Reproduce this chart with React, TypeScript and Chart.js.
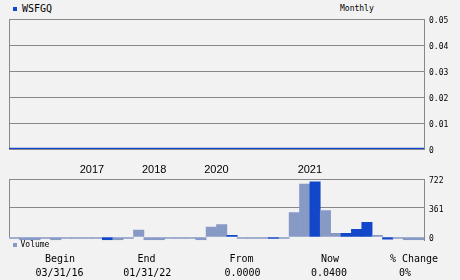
import React, { useEffect, useRef } from 'react';
import { Chart, registerables } from 'chart.js';

Chart.register(...registerables);

const ticker = 'WSFGQ';
const period = 'Monthly';

// one category per bar / price point (40 periods); year shown at the first bar of that year
const yearLabels = [
  '', '', '', '', '', '', '', '', '2017', '',
  '', '', '', '', '2018', '', '', '', '', '',
  '2020', '', '', '', '', '', '', '', '', '2021',
  '', '', '', '', '', '', '', '', '', '',
];

const price = [
  0, 0, 0, 0, 0, 0, 0, 0, 0, 0,
  0, 0, 0, 0, 0, 0, 0, 0, 0, 0,
  0, 0, 0, 0, 0, 0, 0, 0, 0, 0,
  0, 0, 0, 0, 0, 0, 0, 0, 0, 0,
];

const volume = [
  -19, -37, -37, -19, -37, -19, -19, -19, -19, -37,
  -37, -19, 86, -37, -37, -19, -19, -19, -37, 123,
  156, 20, -19, -19, -19, -19, -19, 304, 660, 688,
  328, 45, 45, 95, 181, 21, -28, -19, -37, -37,
];

const volumeUp = [
  false, false, false, false, false, false, false, false, false, true,
  false, false, false, false, false, false, false, false, false, false,
  false, true, false, false, false, true, false, false, false, true,
  false, false, true, true, true, false, true, false, false, false,
];

const priceTicks = [0, 0.01, 0.02, 0.03, 0.04, 0.05];
const volumeTicks = [0, 361, 722];

const footerLabels = ['Begin', 'End', 'From', 'Now', '% Change'];
const footerValues = ['03/31/16', '01/31/22', '0.0000', '0.0400', '0%'];

const BG = '#f2f2f2';
const GRID = '#888888';
const DARK = '#1247c9';
const LIGHT = '#8799c5';
const MONO = '"DejaVu Sans Mono", monospace';

const leftBorder = {
  id: 'leftBorder',
  beforeDatasetsDraw(chart: any) {
    const { ctx, chartArea } = chart;
    const yScale = chart.scales.y;
    const bottom = chart.config.options.leftBorderToZero
      ? yScale.getPixelForValue(0)
      : chartArea.bottom;
    ctx.save();
    ctx.strokeStyle = GRID;
    ctx.lineWidth = 1;
    ctx.beginPath();
    const x = Math.round(chartArea.left) + 0.5;
    ctx.moveTo(x, chartArea.top);
    ctx.lineTo(x, bottom);
    ctx.stroke();
    ctx.restore();
  },
};

function PriceChart() {
  const ref = useRef<HTMLCanvasElement>(null);
  useEffect(() => {
    const chart = new Chart(ref.current!, {
      type: 'line',
      data: {
        labels: yearLabels,
        datasets: [
          {
            data: price,
            borderColor: DARK,
            borderWidth: 2.6,
            pointRadius: 0,
            fill: false,
            tension: 0,
          },
        ],
      },
      options: {
        animation: false,
        responsive: false,
        maintainAspectRatio: false,
        events: [],
        layout: { padding: { left: 9, top: 19, right: 0, bottom: 11 } },
        plugins: { legend: { display: false }, tooltip: { enabled: false } },
        scales: {
          x: { display: false, offset: false },
          y: {
            position: 'right',
            min: 0,
            max: 0.05,
            afterFit: (s: any) => {
              s.width = 36;
            },
            afterBuildTicks: (s: any) => {
              s.ticks = priceTicks.map((v) => ({ value: v }));
            },
            grid: { color: GRID, drawTicks: false, lineWidth: 1 },
            border: { display: true, color: GRID },
            ticks: {
              padding: 5,
              labelOffset: 2,
              color: '#000',
              font: { family: MONO, size: 8 },
              callback: (v: any) => (v === 0 ? '0' : Number(v).toFixed(2)),
            },
          },
        },
      } as any,
      plugins: [leftBorder],
    });
    return () => chart.destroy();
  }, []);
  return (
    <canvas
      ref={ref}
      width={460}
      height={160}
      style={{ position: 'absolute', left: 0, top: 0, width: 460, height: 160 }}
    />
  );
}

function VolumeChart() {
  const ref = useRef<HTMLCanvasElement>(null);
  useEffect(() => {
    const chart = new Chart(ref.current!, {
      type: 'bar',
      data: {
        labels: yearLabels,
        datasets: [
          {
            data: volume,
            backgroundColor: volumeUp.map((u) => (u ? DARK : LIGHT)),
            borderWidth: 0,
            barPercentage: 1,
            categoryPercentage: 1,
          },
        ],
      },
      options: {
        animation: false,
        responsive: false,
        maintainAspectRatio: false,
        events: [],
        leftBorderToZero: true,
        layout: { padding: { left: 9, top: 0, right: 0, bottom: 9 } },
        plugins: { legend: { display: false }, tooltip: { enabled: false } },
        scales: {
          x: {
            position: 'top',
            afterFit: (s: any) => {
              s.height = 19;
            },
            grid: { display: false },
            border: { display: false },
            ticks: {
              autoSkip: false,
              maxRotation: 0,
              minRotation: 0,
              padding: -6,
              labelOffset: -5.2,
              color: '#000',
              font: { family: '"Liberation Sans", Arial, sans-serif', size: 11 },
            },
          },
          y: {
            position: 'right',
            min: -40,
            max: 722,
            afterFit: (s: any) => {
              s.width = 36;
            },
            afterBuildTicks: (s: any) => {
              s.ticks = volumeTicks.map((v) => ({ value: v }));
            },
            grid: {
              drawTicks: false,
              color: (c: any) => (c.tick && c.tick.value === 0 ? 'rgba(0,0,0,0)' : GRID),
            },
            border: { display: true, color: GRID },
            ticks: {
              padding: 5,
              labelOffset: 2,
              color: '#000',
              font: { family: MONO, size: 8 },
              callback: (v: any) => String(v),
            },
          },
        },
      } as any,
      plugins: [leftBorder],
    });
    return () => chart.destroy();
  }, []);
  return (
    <canvas
      ref={ref}
      width={460}
      height={90}
      style={{ position: 'absolute', left: 0, top: 160, width: 460, height: 90 }}
    />
  );
}

const labelCenters = [60, 146.5, 241.5, 330, 414];
const valueCenters = [59.5, 147.3, 242.5, 329, 405];

export default function App() {
  const text = (
    content: string,
    cx: number,
    cy: number,
    size: number,
    key: string,
  ) => (
    <div
      key={key}
      style={{
        position: 'absolute',
        left: cx - 60,
        width: 120,
        top: cy - 6,
        height: 12,
        lineHeight: '12px',
        textAlign: 'center',
        fontFamily: MONO,
        fontSize: size,
        color: '#000',
        whiteSpace: 'pre',
      }}
    >
      {content}
    </div>
  );
  return (
    <div
      style={{
        position: 'fixed',
        left: 0,
        top: 0,
        width: 460,
        height: 280,
        background: BG,
        overflow: 'hidden',
      }}
    >
      <div style={{ position: 'absolute', left: 13, top: 7, width: 4, height: 4, background: DARK }} />
      <div
        style={{
          position: 'absolute',
          left: 22,
          top: 3,
          lineHeight: '12px',
          fontFamily: MONO,
          fontSize: 10,
          color: '#000',
        }}
      >
        {ticker}
      </div>
      <div
        style={{
          position: 'absolute',
          left: 340,
          top: 3,
          lineHeight: '12px',
          fontFamily: MONO,
          fontSize: 8,
          color: '#000',
        }}
      >
        {period}
      </div>
      <PriceChart />
      <VolumeChart />
      <div style={{ position: 'absolute', left: 13, top: 243, width: 4, height: 4, background: LIGHT }} />
      <div
        style={{
          position: 'absolute',
          left: 20.5,
          top: 239,
          lineHeight: '12px',
          fontFamily: MONO,
          fontSize: 8,
          color: '#000',
        }}
      >
        Volume
      </div>
      {footerLabels.map((l, i) => text(l, labelCenters[i], 258.5, 10, 'l' + i))}
      {footerValues.map((v, i) => text(v, valueCenters[i], 273.3, 10, 'v' + i))}
    </div>
  );
}
